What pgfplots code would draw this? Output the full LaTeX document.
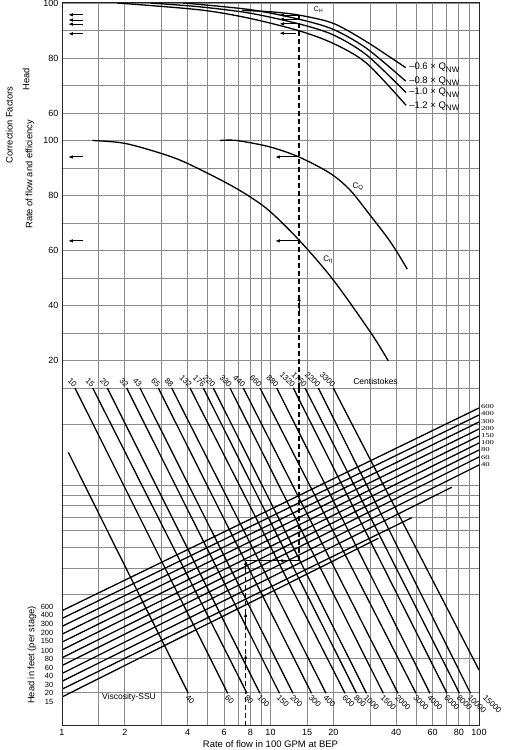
\documentclass[border=0pt]{standalone}
\usepackage{fontspec}
\setmainfont{Liberation Sans}
\newfontfamily\numserif{Liberation Serif}
\usepackage{pgfplots}
\pgfplotsset{compat=1.18}
\usetikzlibrary{arrows.meta}

\tikzset{
  arr/.style={-{Latex[length=5pt,width=3.5pt]}, line width=1pt},
  dsh/.style={dash pattern=on 5pt off 3pt, line width=1.1pt},
  crv/.style={line width=1.3pt, black},
  cst/.style={rotate=-45, anchor=east, inner sep=1pt, yshift=2pt, font=\fontsize{8}{9}\selectfont},
  ssu/.style={rotate=-45, anchor=west, inner sep=1pt, yshift=-3pt, font=\fontsize{8}{9}\selectfont},
  hr/.style={anchor=west, inner sep=0.5pt, xshift=1pt, xscale=1.45, font=\numserif\fontsize{6}{6}\selectfont},
  hl/.style={anchor=east, inner sep=0pt, xshift=-8.5pt, font=\fontsize{7.5}{8}\selectfont},
  qn/.style={anchor=west, inner sep=0pt, font=\fontsize{9.5}{10}\selectfont},
}

\begin{document}
\begin{tikzpicture}[font=\fontsize{9.3}{11}\selectfont]
\useasboundingbox (0pt,0pt) rectangle (513pt,750pt);

% upper part: head (top) and flow/efficiency (below), u = eff - 50
\begin{axis}[name=top, at={(62pt,362pt)}, anchor=south west,
  scale only axis, width=417pt, height=385pt,
  xmode=log, xmin=1, xmax=100, ymin=-40, ymax=100,
  xtick={1,1.5,2,3,4,5,6,7,8,9,10,15,20,30,40,50,60,70,80,90,100},
  xticklabels={},
  ytick={-40,-30,...,100},
  yticklabels={,20,,40,,60,,80,,100,60,,80,,100},
  grid=major, major grid style={black!45, line width=0.6pt},
  major tick length=0pt, axis line style={draw=none},
  clip mode=individual,
  tick label style={font=\fontsize{9}{10}\selectfont},
  /pgf/number format/assume math mode=true]
% C_H curves
\addplot[crv, smooth] coordinates {(1.84,100) (4.59,97.5) (7.97,94.4) (13.7,89.9) (20,85.3) (28.9,78.1) (44.7,62.8)};
\addplot[crv, smooth] coordinates {(2.64,100) (4.59,98.6) (7.97,96.3) (13.7,92.4) (20,88.4) (28.9,81.1) (44.7,67.4)};
\addplot[crv, smooth] coordinates {(3.81,100) (7.97,97.6) (13.7,94.1) (20,90.4) (28.9,83.5) (44.5,71.6)};
\addplot[crv, smooth] coordinates {(7.3,97.3) (10,96.8) (13.7,95.6) (20,92.6) (28.9,85.9) (44.5,76.5)};
% C_Q
\addplot[crv, smooth] coordinates {(5.73,50) (6.88,50) (9.9,47.7) (13.7,44.0) (19.3,38.1) (24.06,32.0) (30.0,22.9) (36.1,15.0) (40.3,9.6) (45.3,3.2)};
% C_eta
\addplot[crv, smooth] coordinates {(1.40,50) (1.99,49) (2.99,45.3) (3.99,41.7) (6.63,33.2) (9.56,25.3) (13.7,13.8) (20,-0.7) (30.4,-20.1) (36.7,-30.1)};
% read-off path
\addplot[dsh] coordinates {(13.7,-40) (13.7,95.6)};
\addplot[arr] coordinates {(13.7,-13) (13.7,-6.5)};
\addplot[arr] coordinates {(13.7,95.6) (11.0,95.6)};
\addplot[arr] coordinates {(13.7,94.1) (11.0,94.1)};
\addplot[arr] coordinates {(13.7,92.4) (11.0,92.4)};
\addplot[arr] coordinates {(13.2,89.0) (11.0,89.0)};
\addplot[arr] coordinates {(13.7,44.0) (10.5,44.0)};
\addplot[arr] coordinates {(13.7,13.5) (10.5,13.5)};
\addplot[arr] coordinates {(1.261,95.7) (1.068,95.7)};
\addplot[arr] coordinates {(1.261,93.8) (1.068,93.8)};
\addplot[arr] coordinates {(1.261,92.3) (1.068,92.3)};
\addplot[arr] coordinates {(1.261,88.8) (1.068,88.8)};
\addplot[arr] coordinates {(1.261,44.0) (1.068,44.0)};
\addplot[arr] coordinates {(1.261,13.5) (1.068,13.5)};
\node[font=\fontsize{7}{8}\selectfont] at (axis cs:17.0,97.5) {C\textsubscript{H}};
\node[font=\fontsize{8}{9}\selectfont] at (axis cs:26.3,33.1) {C\textsubscript{Q}};
\node[font=\fontsize{8}{9}\selectfont] at (axis cs:18.9,6.5) {C\textsubscript{η}};
\node[qn] at (axis cs:46.2,76.4) {–0.6 × Q\raisebox{-2.5pt}{\fontsize{8}{9}\selectfont NW}};
\node[qn] at (axis cs:46.2,71.6) {–0.8 × Q\raisebox{-2.5pt}{\fontsize{8}{9}\selectfont NW}};
\node[qn] at (axis cs:46.2,67.3) {–1.0 × Q\raisebox{-2.5pt}{\fontsize{8}{9}\selectfont NW}};
\node[qn] at (axis cs:46.2,62.5) {–1.2 × Q\raisebox{-2.5pt}{\fontsize{8}{9}\selectfont NW}};
\end{axis}

% lower part: viscosity and head-per-stage nomogram
\begin{axis}[name=bot, at={(62pt,24pt)}, anchor=south west,
  scale only axis, width=417pt, height=338pt,
  xmode=log, xmin=1, xmax=100, ymin=0, ymax=338,
  xtick={1,1.5,2,3,4,5,6,7,8,9,10,15,20,30,40,50,60,70,80,90,100},
  xticklabels={1,,2,,4,,6,,8,,10,15,20,,40,,60,,80,,100},
  ytick={33.3,68,132,157.7,178.3,195.3,208.3,220.3,231,241,301.7},
  yticklabels={},
  grid=major, major grid style={black!45, line width=0.6pt},
  major tick length=0pt, axis line style={draw=none},
  clip mode=individual,
  tick label style={font=\fontsize{9}{10}\selectfont},
  /pgf/number format/assume math mode=true,
  xlabel={Rate of flow in 100 GPM at BEP},
  xlabel style={at={(axis description cs:0.5,0)}, anchor=center, yshift=-18.5pt, font=\fontsize{9.5}{11}\selectfont}]
% viscosity lines
\addplot[crv] coordinates {(1.072,273.7) (4.034,32.7)};
\addplot[crv] coordinates {(1.154,338) (6.233,32.7)};
\addplot[crv] coordinates {(1.404,338) (7.715,32.7)};
\addplot[crv] coordinates {(1.649,338) (8.904,32.7)};
\addplot[crv] coordinates {(2.043,338) (11.05,32.7)};
\addplot[crv] coordinates {(2.366,338) (12.82,32.7)};
\addplot[crv] coordinates {(2.896,338) (15.73,32.7)};
\addplot[crv] coordinates {(3.358,338) (18.46,32.7)};
\addplot[crv] coordinates {(4.111,338) (22.77,32.7)};
\addplot[crv] coordinates {(4.762,338) (25.85,32.7)};
\addplot[crv] coordinates {(5.317,338) (28.87,32.7)};
\addplot[crv] coordinates {(6.394,338) (34.76,32.7)};
\addplot[crv] coordinates {(7.406,338) (40.88,32.7)};
\addplot[crv] coordinates {(8.904,338) (49.87,32.7)};
\addplot[crv] coordinates {(10.71,338) (58.21,32.7)};
\addplot[crv] coordinates {(12.86,338) (70.22,32.7)};
\addplot[crv] coordinates {(14.64,338) (80.62,32.7)};
\addplot[crv] coordinates {(16.96,338) (91.05,32.7)};
\addplot[crv] coordinates {(20.01,338) (100,56)};
% head lines
\addplot[crv] coordinates {(1,115.3) (100,318)};
\addplot[crv] coordinates {(1,107.5) (100,311)};
\addplot[crv] coordinates {(1,99.6) (100,304)};
\addplot[crv] coordinates {(1,91.8) (100,297)};
\addplot[crv] coordinates {(1,83.9) (100,290)};
\addplot[crv] coordinates {(1,76.1) (100,283)};
\addplot[crv] coordinates {(1,68.2) (100,276)};
\addplot[crv] coordinates {(1,60.4) (100,269)};
\addplot[crv] coordinates {(1,52.5) (100,261)};
\addplot[crv] coordinates {(1,44.7) (73.96,238.7)};
\addplot[crv] coordinates {(1,36.8) (47.56,208.3)};
\addplot[crv] coordinates {(1,29.0) (32.89,187.7)};
% read-off path
\addplot[dsh] coordinates {(7.6,0) (7.6,165.3)};
\addplot[dsh] coordinates {(13.7,165.3) (13.7,338)};
\addplot[line width=1pt] coordinates {(7.6,165.3) (13.7,165.3)};
\addplot[arr] coordinates {(7.6,100) (7.6,114)};
\addplot[arr] coordinates {(7.6,58) (7.6,72)};
\addplot[arr] coordinates {(7.6,155) (7.6,166)};
\addplot[arr] coordinates {(10.5,165.3) (11.9,165.3)};
% centistokes
\node[cst] at (axis cs:1.154,338) {10};
\node[cst] at (axis cs:1.404,338) {15};
\node[cst] at (axis cs:1.649,338) {20};
\node[cst] at (axis cs:2.043,338) {32};
\node[cst] at (axis cs:2.366,338) {43};
\node[cst] at (axis cs:2.896,338) {65};
\node[cst] at (axis cs:3.358,338) {88};
\node[cst] at (axis cs:4.111,338) {132};
\node[cst] at (axis cs:4.762,338) {176};
\node[cst] at (axis cs:5.317,338) {220};
\node[cst] at (axis cs:6.394,338) {330};
\node[cst] at (axis cs:7.406,338) {440};
\node[cst] at (axis cs:8.904,338) {660};
\node[cst] at (axis cs:10.71,338) {880};
\node[cst] at (axis cs:12.86,338) {1320};
\node[cst] at (axis cs:14.64,338) {1760};
\node[cst] at (axis cs:16.96,338) {2200};
\node[cst] at (axis cs:20.01,338) {3300};
\node[font=\fontsize{8.5}{9}\selectfont] at (axis cs:31.9,344.3) {Centistokes};
% SSU
\node[ssu] at (axis cs:4.034,32.7) {40};
\node[ssu] at (axis cs:6.233,32.7) {60};
\node[ssu] at (axis cs:7.715,32.7) {80};
\node[ssu] at (axis cs:8.904,32.7) {100};
\node[ssu] at (axis cs:11.05,32.7) {150};
\node[ssu] at (axis cs:12.82,32.7) {200};
\node[ssu] at (axis cs:15.73,32.7) {300};
\node[ssu] at (axis cs:18.46,32.7) {400};
\node[ssu] at (axis cs:22.77,32.7) {600};
\node[ssu] at (axis cs:25.85,32.7) {800};
\node[ssu] at (axis cs:28.87,32.7) {1000};
\node[ssu] at (axis cs:34.76,32.7) {1500};
\node[ssu] at (axis cs:40.88,32.7) {2000};
\node[ssu] at (axis cs:49.87,32.7) {3000};
\node[ssu] at (axis cs:58.21,32.7) {4000};
\node[ssu] at (axis cs:70.22,32.7) {6000};
\node[ssu] at (axis cs:80.62,32.7) {8000};
\node[ssu] at (axis cs:91.05,32.7) {10000};
\node[ssu] at (axis cs:107.8,32.7) {15000};
\node[font=\fontsize{8.5}{9}\selectfont] at (axis cs:2.096,29) {Viscosity-SSU};
% head labels, right
\node[hr] at (axis cs:100,319.3) {600};
\node[hr] at (axis cs:100,312) {400};
\node[hr] at (axis cs:100,304.3) {300};
\node[hr] at (axis cs:100,297.7) {200};
\node[hr] at (axis cs:100,290.3) {150};
\node[hr] at (axis cs:100,283.3) {100};
\node[hr] at (axis cs:100,276) {80};
\node[hr] at (axis cs:100,268.7) {60};
\node[hr] at (axis cs:100,261) {40};
% head labels, left
\node[hl] at (axis cs:1,119.3) {600};
\node[hl] at (axis cs:1,111) {400};
\node[hl] at (axis cs:1,102) {300};
\node[hl] at (axis cs:1,93.3) {200};
\node[hl] at (axis cs:1,85.3) {150};
\node[hl] at (axis cs:1,75.3) {100};
\node[hl] at (axis cs:1,67) {80};
\node[hl] at (axis cs:1,58.3) {60};
\node[hl] at (axis cs:1,49.7) {40};
\node[hl] at (axis cs:1,41.3) {30};
\node[hl] at (axis cs:1,32.7) {20};
\node[hl] at (axis cs:1,24.3) {15};
\end{axis}

\draw[line width=1pt, black!85] (top.north west) rectangle (bot.south east);
\node[rotate=90] at (9.3pt,625pt) {Correction Factors};
\node[rotate=90] at (26pt,671pt) {Head};
\node[rotate=90] at (30pt,575.5pt) {Rate of flow and efficiency};
\node[rotate=90] at (32pt,95pt) {Head in feet (per stage)};
\end{tikzpicture}
\end{document}
